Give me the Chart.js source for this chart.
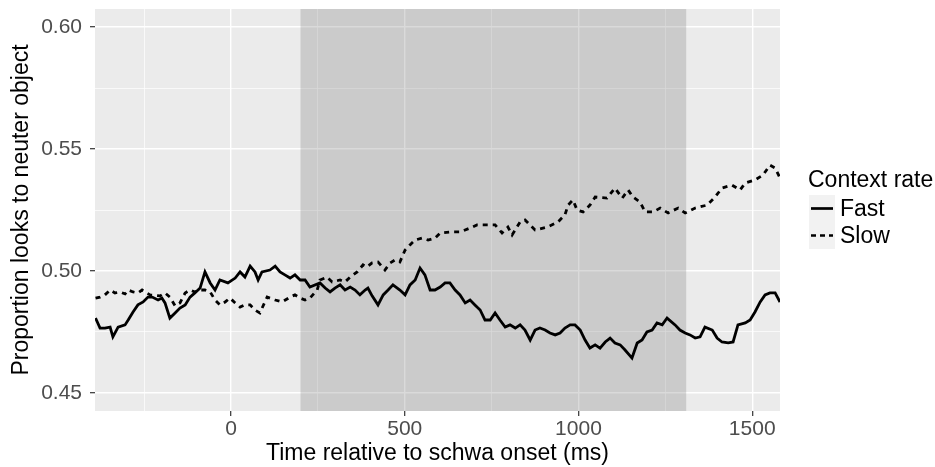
<!DOCTYPE html>
<html>
<head>
<meta charset="utf-8">
<script src="https://cdn.jsdelivr.net/npm/chart.js@4.4.1/dist/chart.umd.min.js"></script>
<style>
  html, body { margin: 0; padding: 0; background: #fff; }
  #wrap { width: 935px; height: 467px; position: relative; }
</style>
</head>
<body>
<div id="wrap"><canvas id="c"></canvas></div>
<script>
// Fast context rate (solid line)
const fastTime = [-390, -377, -363, -348, -340, -325, -305, -296, -282, -268, -253, -239, -227, -210, -199, -190,
  -176, -161, -147, -132, -118, -104, -89, -75, -60, -46, -32, -9, 12, 26, 40, 55, 69, 78, 89, 112, 127, 141,
  155, 170, 184, 199, 213, 227, 256, 271, 285, 299, 314, 328, 343, 357, 371, 386, 394, 406, 423, 438, 452,
  466, 486, 501, 515, 530, 544, 558, 573, 587, 602, 616, 630, 645, 659, 674, 688, 702, 717, 731, 746, 760,
  774, 789, 803, 818, 832, 846, 861, 875, 889, 904, 918, 933, 947, 961, 976, 990, 1005, 1019, 1033, 1048,
  1062, 1077, 1091, 1105, 1120, 1134, 1154, 1169, 1183, 1197, 1212, 1226, 1241, 1255, 1278, 1292, 1307,
  1321, 1336, 1350, 1364, 1385, 1399, 1413, 1431, 1445, 1459, 1480, 1494, 1508, 1523, 1537, 1551, 1566, 1580];
const fastProp = [0.4807, 0.4766, 0.4766, 0.4770, 0.4730, 0.4770, 0.4779, 0.4799, 0.4832, 0.4861, 0.4873,
  0.4893, 0.4893, 0.4881, 0.4889, 0.4869, 0.4807, 0.4828, 0.4848, 0.4861, 0.4893, 0.4910, 0.4930, 0.4996,
  0.4951, 0.4922, 0.4963, 0.4951, 0.4971, 0.4996, 0.4975, 0.5020, 0.4996, 0.4963, 0.4996, 0.5004, 0.5020,
  0.4996, 0.4984, 0.4971, 0.4984, 0.4963, 0.4963, 0.4934, 0.4951, 0.4930, 0.4914, 0.4930, 0.4943, 0.4922,
  0.4934, 0.4922, 0.4902, 0.4922, 0.4930, 0.4898, 0.4861, 0.4902, 0.4922, 0.4943, 0.4922, 0.4902, 0.4943,
  0.4963, 0.5012, 0.4984, 0.4922, 0.4922, 0.4934, 0.4951, 0.4951, 0.4922, 0.4902, 0.4869, 0.4881, 0.4861,
  0.4840, 0.4799, 0.4799, 0.4828, 0.4799, 0.4770, 0.4779, 0.4766, 0.4779, 0.4758, 0.4717, 0.4758, 0.4766,
  0.4758, 0.4746, 0.4738, 0.4746, 0.4766, 0.4779, 0.4779, 0.4758, 0.4717, 0.4684, 0.4697, 0.4684, 0.4709,
  0.4725, 0.4705, 0.4697, 0.4676, 0.4643, 0.4705, 0.4717, 0.4750, 0.4758, 0.4787, 0.4779, 0.4807, 0.4779,
  0.4758, 0.4746, 0.4738, 0.4725, 0.4730, 0.4770, 0.4758, 0.4725, 0.4709, 0.4705, 0.4709, 0.4779, 0.4787,
  0.4799, 0.4832, 0.4873, 0.4902, 0.4910, 0.4910, 0.4873];

// Slow context rate (dashed line)
const slowTime = [-390, -377, -363, -348, -334, -320, -305, -296, -282, -268, -256, -233, -204, -190, -176,
  -161, -147, -132, -118, -104, -89, -75, -60, -46, -32, -17, -3, 12, 26, 40, 55, 69, 83, 104, 127, 147, 170,
  184, 199, 213, 227, 248, 256, 276, 291, 314, 328, 343, 363, 380, 391, 406, 423, 443, 458, 472, 486, 501,
  515, 530, 550, 567, 587, 602, 630, 659, 688, 708, 731, 760, 780, 797, 809, 832, 846, 875, 910, 941, 961,
  970, 984, 996, 1013, 1033, 1048, 1082, 1105, 1126, 1143, 1157, 1177, 1192, 1215, 1235, 1258, 1287, 1307,
  1336, 1370, 1393, 1413, 1442, 1465, 1480, 1508, 1531, 1551, 1566, 1580];
const slowProp = [0.4889, 0.4893, 0.4902, 0.4922, 0.4910, 0.4914, 0.4906, 0.4922, 0.4914, 0.4910, 0.4922,
  0.4902, 0.4898, 0.4910, 0.4893, 0.4857, 0.4869, 0.4910, 0.4922, 0.4914, 0.4922, 0.4922, 0.4914, 0.4881,
  0.4861, 0.4873, 0.4889, 0.4869, 0.4852, 0.4861, 0.4861, 0.4840, 0.4828, 0.4893, 0.4881, 0.4873, 0.4893,
  0.4902, 0.4889, 0.4881, 0.4889, 0.4922, 0.4963, 0.4975, 0.4955, 0.4963, 0.4955, 0.4975, 0.4996, 0.5025,
  0.5016, 0.5033, 0.5037, 0.5004, 0.5033, 0.5045, 0.5037, 0.5086, 0.5107, 0.5127, 0.5135, 0.5127, 0.5135,
  0.5156, 0.5160, 0.5160, 0.5176, 0.5189, 0.5189, 0.5189, 0.5156, 0.5180, 0.5148, 0.5201, 0.5209, 0.5168,
  0.5180, 0.5201, 0.5230, 0.5270, 0.5291, 0.5250, 0.5242, 0.5270, 0.5303, 0.5299, 0.5340, 0.5299, 0.5332,
  0.5303, 0.5283, 0.5242, 0.5242, 0.5258, 0.5238, 0.5258, 0.5238, 0.5258, 0.5270, 0.5303, 0.5340, 0.5352,
  0.5332, 0.5361, 0.5373, 0.5393, 0.5434, 0.5422, 0.5381];

const xTicks = [-250, 0, 250, 500, 750, 1000, 1250, 1500];
const yTicks = [0.45, 0.475, 0.50, 0.525, 0.55, 0.575, 0.60];
const shadeWindow = [200, 1310]; // shaded analysis window (ms)

const seriesNames = ['Fast', 'Slow'];
const FONT = '"Liberation Sans", Arial, sans-serif';

const isMajorX = v => v % 500 === 0;
const isMajorY = v => Math.abs(v * 20 - Math.round(v * 20)) < 1e-6;

const ggPanel = {
  id: 'ggPanel',
  beforeDraw(chart) {
    const { ctx, chartArea: a } = chart;
    ctx.save();
    ctx.fillStyle = '#EBEBEB';
    ctx.fillRect(a.left, a.top, a.right - a.left, a.bottom - a.top);
    ctx.restore();
  },
  beforeDatasetsDraw(chart) {
    const { ctx, chartArea: a, scales } = chart;
    const x0 = scales.x.getPixelForValue(shadeWindow[0]);
    const x1 = scales.x.getPixelForValue(shadeWindow[1]);
    ctx.save();
    ctx.fillStyle = 'rgba(100,100,100,0.24)';
    ctx.fillRect(x0, a.top, x1 - x0, a.bottom - a.top);
    ctx.restore();
  },
  afterDraw(chart) {
    const { ctx, chartArea: a } = chart;
    ctx.save();
    ctx.fillStyle = '#000';
    ctx.font = '23px ' + FONT;
    ctx.textAlign = 'center';
    ctx.textBaseline = 'middle';
    ctx.fillText('Time relative to schwa onset (ms)', (a.left + a.right) / 2, 454);
    ctx.save();
    ctx.translate(22, (a.top + a.bottom) / 2);
    ctx.rotate(-Math.PI / 2);
    ctx.fillText('Proportion looks to neuter object', 0, 0);
    ctx.restore();

    // legend
    ctx.textAlign = 'left';
    ctx.fillText('Context rate', 808, 181);
    const keyX = 809, keyW = 26, keyH = 27, keyY = 195;
    seriesNames.forEach((name, i) => {
      const y = keyY + i * keyH;
      ctx.fillStyle = '#F2F2F2';
      ctx.fillRect(keyX, y, keyW, keyH);
      ctx.strokeStyle = '#000';
      ctx.lineWidth = 2.7;
      ctx.setLineDash(i === 0 ? [] : [5, 4]);
      ctx.beginPath();
      ctx.moveTo(keyX + 2, y + keyH / 2);
      ctx.lineTo(keyX + keyW - 2, y + keyH / 2);
      ctx.stroke();
      ctx.setLineDash([]);
      ctx.fillStyle = '#000';
      ctx.fillText(name, 840, y + keyH / 2 + 1);
    });
    ctx.restore();
  }
};

new Chart(document.getElementById('c'), {
  type: 'line',
  data: {
    datasets: [
      {
        label: seriesNames[0],
        data: fastTime.map((t, i) => ({ x: t, y: fastProp[i] })),
        borderColor: '#000',
        borderWidth: 2.8,
        pointRadius: 0,
        tension: 0
      },
      {
        label: seriesNames[1],
        data: slowTime.map((t, i) => ({ x: t, y: slowProp[i] })),
        borderColor: '#000',
        borderWidth: 2.8,
        borderDash: [5, 5],
        pointRadius: 0,
        tension: 0
      }
    ]
  },
  options: {
    responsive: true,
    maintainAspectRatio: false,
    animation: false,
    layout: { padding: { top: 9, right: 155, left: 0, bottom: 0 } },
    plugins: { legend: { display: false }, tooltip: { enabled: false } },
    scales: {
      x: {
        type: 'linear',
        min: -391.5,
        max: 1580,
        afterBuildTicks: s => { s.ticks = xTicks.map(v => ({ value: v })); },
        afterFit: s => { s.height = 56; s.paddingLeft = 0; s.paddingRight = 0; },
        border: { display: false },
        grid: {
          color: '#FFFFFF',
          lineWidth: c => (c.tick && isMajorX(c.tick.value) ? 1.4 : 0.7),
          tickColor: c => (c.tick && isMajorX(c.tick.value) ? '#333333' : 'rgba(0,0,0,0)'),
          tickLength: 5,
          tickWidth: 1.2
        },
        ticks: {
          autoSkip: false,
          maxRotation: 0,
          padding: 1,
          color: '#4D4D4D',
          font: { family: FONT, size: 21 },
          callback: v => (isMajorX(v) ? String(v) : '')
        }
      },
      y: {
        min: 0.4426,
        max: 0.6074,
        afterBuildTicks: s => { s.ticks = yTicks.map(v => ({ value: v })); },
        afterFit: s => { s.width = 95; s.paddingTop = 0; s.paddingBottom = 0; },
        border: { display: false },
        grid: {
          color: '#FFFFFF',
          lineWidth: c => (c.tick && isMajorY(c.tick.value) ? 1.4 : 0.7),
          tickColor: c => (c.tick && isMajorY(c.tick.value) ? '#333333' : 'rgba(0,0,0,0)'),
          tickLength: 5,
          tickWidth: 1.2
        },
        ticks: {
          autoSkip: false,
          padding: 8,
          color: '#4D4D4D',
          font: { family: FONT, size: 21 },
          callback: v => (isMajorY(v) ? v.toFixed(2) : '')
        }
      }
    }
  },
  plugins: [ggPanel]
});
</script>
</body>
</html>
